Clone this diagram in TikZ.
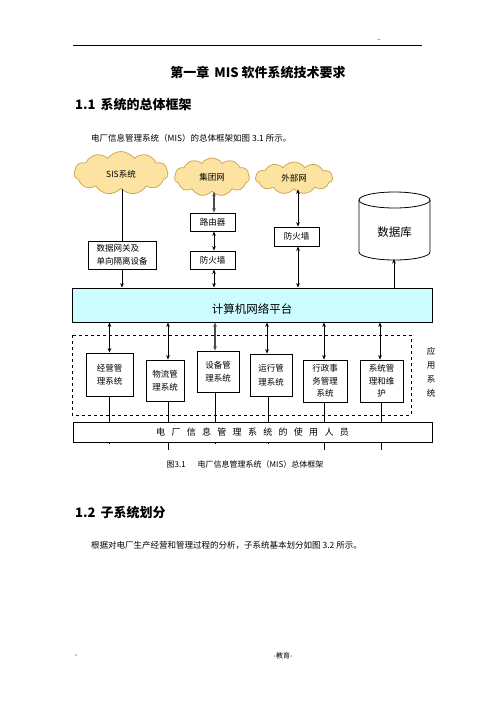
\documentclass[tikz,border=0pt]{standalone}
\usepackage{fontspec}
\setmainfont{Noto Sans CJK SC}
\usetikzlibrary{shapes.symbols,arrows.meta}
\definecolor{cloudfill}{HTML}{FCE3A2}
\definecolor{clouddraw}{HTML}{C9A347}
\definecolor{platfill}{HTML}{CCFCFF}
\newcommand{\mygap}{\hspace{6.3pt}}
\begin{document}
\begin{tikzpicture}[x=1pt,y=-1pt,
  every node/.style={inner sep=0pt},
  cloudnode/.style={cloud, cloud puffs=11, cloud puff arc=110, cloud ignores aspect,
    fill=cloudfill, draw=clouddraw, line width=0.7pt, font=\fontsize{8.5}{10}\selectfont},
  boxnode/.style={draw, fill=white, line width=0.8pt, font=\fontsize{8.5}{13.5}\selectfont, align=center},
  dbl/.style={line width=1pt, {Stealth[length=4.5pt,width=3.6pt]}-{Stealth[length=4.5pt,width=3.6pt]}},
  sgl/.style={line width=1pt, -{Stealth[length=4.5pt,width=3.6pt]}},
  plainline/.style={line width=0.8pt},
  heading/.style={font=\fontsize{13}{15}\selectfont\bfseries, anchor=west},
  bodytext/.style={font=\fontsize{8.5}{10}\selectfont, anchor=west}
]
\fill[white] (0,0) rectangle (496,702);
\useasboundingbox (0,0) rectangle (496,702);

% page header
\coordinate (hl) at (73,45);
\coordinate (hr) at (422,45);
\draw[line width=0.9pt] (hl) -- (hr);
\node[font=\fontsize{6}{7}\selectfont] (hdash) at (379,41) {--};

\node[font=\fontsize{13}{15}\selectfont\bfseries] (title) at (258,73) {第一章\hspace{5pt}MIS 软件系统技术要求};
\node[heading] (h11) at (75,105) {1.1\hspace{5pt}系统的总体框架};
\node[bodytext] (p1) at (91,138) {电厂信息管理系统（MIS）的总体框架如图 3.1 所示。};

% clouds
\node[cloudnode, minimum width=94pt, minimum height=43pt, text height=9pt, text depth=1pt] (sis) at (121,173) {SIS系统};
\node[cloudnode, minimum width=75pt, minimum height=38pt] (jt) at (212,177) {集团网};
\node[cloudnode, minimum width=77pt, minimum height=32pt] (wb) at (294,178) {外部网};

% boxes upper
\node[boxnode, minimum width=45pt, minimum height=18pt] (router) at (212.5,222) {路由器};
\node[boxnode, minimum width=45pt, minimum height=18pt] (fw1) at (212.5,260) {防火墙};
\node[boxnode, minimum width=45pt, minimum height=19pt] (fw2) at (296.5,236.5) {防火墙};
\node[boxnode, minimum width=68pt, minimum height=28pt, align=left] (gw) at (122,255) {数据网关及\\单向隔离设备};

% database cylinder
\filldraw[fill=white, line width=0.8pt] (359,200) -- (359,252) arc[start angle=180, end angle=360, x radius=35.5pt, y radius=8pt] -- (430,200);
\filldraw[fill=white, line width=0.8pt] (394.5,200) ellipse [x radius=35.5pt, y radius=8pt];
\node[font=\fontsize{11.5}{13}\selectfont] (db) at (394.5,232) {数据库};
\coordinate (dbb) at (394,259);

% platform
\node[draw, fill=platfill, line width=0.8pt, minimum width=360pt, minimum height=34pt,
  font=\fontsize{11.5}{13}\selectfont, text height=18pt, text depth=2pt] (plat) at (252,305) {计算机网络平台};

% application area
\draw[dashed, line width=0.8pt] (72,335) rectangle (411,415);
\node[font=\fontsize{8.5}{14}\selectfont, align=center] (app) at (431,372) {应\\用\\系\\统};

\node[boxnode, minimum width=47pt, minimum height=43pt] (s1) at (109.5,374.5) {经营管\\理系统};
\node[boxnode, minimum width=38pt, minimum height=41pt] (s2) at (165,380.5) {物流管\\理系统};
\node[boxnode, minimum width=42pt, minimum height=41pt] (s3) at (218,371.5) {设备管\\理系统};
\node[boxnode, minimum width=42pt, minimum height=42pt] (s4) at (271,375) {运行管\\理系统};
\node[boxnode, minimum width=44pt, minimum height=42pt, font=\fontsize{8.5}{12.5}\selectfont] (s5) at (325,381) {行政事\\务管理\\系统};
\node[boxnode, minimum width=43pt, minimum height=42pt, font=\fontsize{8.5}{12.5}\selectfont] (s6) at (381.5,381) {系统管\\理和维\\护};

% users bar
\node[draw, fill=white, line width=0.8pt, minimum width=359pt, minimum height=20pt,
  font=\fontsize{9}{10}\selectfont] (bar) at (252.5,432)
  {电\mygap 厂\mygap 信\mygap 息\mygap 管\mygap 理\mygap 系\mygap 统\mygap 的\mygap 使\mygap 用\mygap 人\mygap 员};

\node[font=\fontsize{8}{9}\selectfont] (cap) at (245,464) {图3.1\hspace{12pt}电厂信息管理系统（MIS）总体框架};

% connectors upper
\draw[plainline] (sis.south -| gw.north) -- (gw.north);
\draw[sgl] (gw.south) -- (gw.south |- plat.north);
\draw[dbl, draw=black!70, line width=1.4pt] ([xshift=1.5pt]router.north |- jt.south) -- ([xshift=1.5pt]router.north);
\draw[dbl] ([xshift=1.5pt]router.south) -- ([xshift=1.5pt]fw1.north);
\draw[dbl] ([xshift=1.5pt]fw1.south) -- ([xshift=1.5pt]fw1.south |- plat.north);
\draw[dbl] ([xshift=1.5pt]fw2.north |- wb.south) -- ([xshift=1.5pt]fw2.north);
\draw[dbl] ([xshift=1.5pt]fw2.south) -- ([xshift=1.5pt]fw2.south |- plat.north);
\draw[sgl] (dbb |- plat.north) -- (dbb);

% platform to subsystems
\draw[dbl] (s1.north |- plat.south) -- (s1.north);
\draw[dbl] ([xshift=3pt]s2.north |- plat.south) -- ([xshift=3pt]s2.north);
\draw[dbl, draw=black!70, line width=1.4pt] ([xshift=-3pt]s3.north |- plat.south) -- ([xshift=-3pt]s3.north);
\draw[dbl] ([xshift=-4pt]s4.north |- plat.south) -- ([xshift=-4pt]s4.north);
\draw[dbl] ([xshift=-1pt]s5.north |- plat.south) -- ([xshift=-1pt]s5.north);
\draw[dbl] ([xshift=-1.5pt]s6.north |- plat.south) -- ([xshift=-1.5pt]s6.north);

% subsystems to users bar
\draw[plainline] (s1.south) -- (s1.south |- bar.north);
\draw[plainline] ([xshift=3pt]s2.south) -- ([xshift=3pt]s2.south |- bar.north);
\draw[plainline] ([xshift=-3pt]s3.south) -- ([xshift=-3pt]s3.south |- bar.north);
\draw[plainline] ([xshift=-3pt]s4.south) -- ([xshift=-3pt]s4.south |- bar.north);
\draw[plainline] ([xshift=-1pt]s5.south) -- ([xshift=-1pt]s5.south |- bar.north);
\draw[plainline] ([xshift=-0.5pt]s6.south) -- ([xshift=-0.5pt]s6.south |- bar.north);
% stubs below bar
\draw[plainline] (s1.south |- bar.south) -- ++(0,2);
\draw[plainline] ([xshift=3pt]s2.south |- bar.south) -- ++(0,8);
\draw[plainline] ([xshift=-3pt]s3.south |- bar.south) -- ++(0,2);
\draw[plainline] ([xshift=-3pt]s4.south |- bar.south) -- ++(0,2);
\draw[plainline] ([xshift=-1pt]s5.south |- bar.south) -- ++(0,8);
\draw[plainline] ([xshift=-0.5pt]s6.south |- bar.south) -- ++(0,8);

% section 1.2
\node[heading] (h12) at (75,513) {1.2\hspace{5pt}子系统划分};
\node[bodytext] (p2) at (91,545) {根据对电厂生产经营和管理过程的分析，子系统基本划分如图 3.2 所示。};

% footer
\node[font=\fontsize{7}{8}\selectfont] (f1) at (76,656) {-};
\node[font=\fontsize{7}{8}\selectfont] (f2) at (283,656) {-教育-};
\end{tikzpicture}
\end{document}
